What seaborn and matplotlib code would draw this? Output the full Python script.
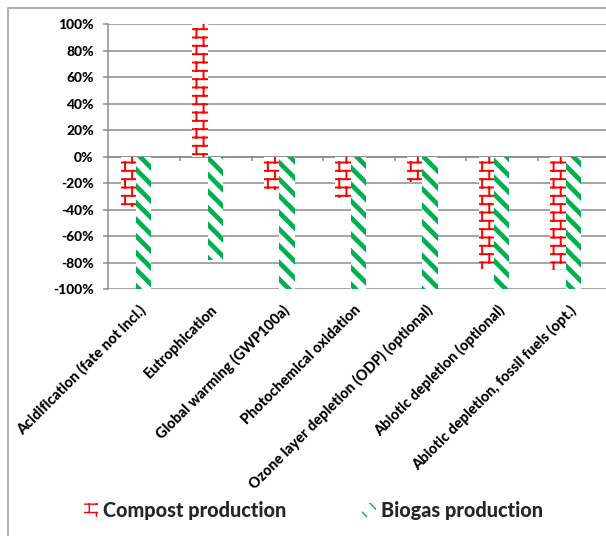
import warnings
import numpy as np
import pandas as pd
import matplotlib
matplotlib.use("Agg")
import matplotlib.pyplot as plt
import matplotlib.hatch as mhatch
from matplotlib.path import Path
from matplotlib.patches import Rectangle
import seaborn as sns

warnings.filterwarnings("ignore")

categories = [
    "Acidification (fate not incl.)",
    "Eutrophication",
    "Global warming (GWP100a)",
    "Photochemical oxidation",
    "Ozone layer depletion (ODP) (optional)",
    "Abiotic depletion (optional)",
    "Abiotic depletion, fossil fuels (opt.)",
]
compost = [-0.38, 1.00, -0.25, -0.31, -0.19, -0.85, -0.86]
biogas = [-1.00, -0.78, -1.00, -1.00, -1.00, -1.00, -1.00]
series_names = ["Compost production", "Biogas production"]
y_ticks = [-1.0, -0.8, -0.6, -0.4, -0.2, 0.0, 0.2, 0.4, 0.6, 0.8, 1.0]
y_labels = ["-100%", "-80%", "-60%", "-40%", "-20%", "0%",
            "20%", "40%", "60%", "80%", "100%"]

RED = "#FF0000"
GREEN = "#00B050"
GRID = "#8C8C8C"


class BrickHatch(mhatch.HatchPatternBase):
    """Horizontal brick pattern, selected with the 'b' hatch character."""

    def __init__(self, hatch, density):
        n = hatch.count("b")
        self.rows = int(n * density * 2)
        self.cols = max(int(round(self.rows * 7 / 12)), 1)
        # one horizontal line per row, one vertical joint per brick,
        # plus the wrapped part of the last row's joints
        nseg = self.rows + self.rows * self.cols + self.cols
        self.num_vertices = 2 * nseg if n else 0

    def set_vertices_and_codes(self, vertices, codes):
        segs = []
        h = 1.0 / self.rows
        for k in range(self.rows):
            y = (k + 0.5) * h
            segs.append(((0.0, y), (1.0, y)))
            for j in range(self.cols):
                x = (j + 0.25 + 0.5 * (k % 2)) / self.cols
                if k < self.rows - 1:
                    segs.append(((x, y), (x, y + h)))
                else:
                    segs.append(((x, y), (x, 1.0)))
                    segs.append(((x, 0.0), (x, 0.5 * h)))
        pts = np.array(segs, dtype=float).reshape(-1, 2)
        vertices[:] = pts
        codes[0::2] = Path.MOVETO
        codes[1::2] = Path.LINETO


mhatch._hatch_types.append(BrickHatch)

sns.set_style("white")
plt.rcParams["font.family"] = ["Lato", "DejaVu Sans"]
plt.rcParams["font.weight"] = "black"

df = pd.DataFrame({
    "category": categories * 2,
    "value": compost + biogas,
    "series": [series_names[0]] * len(categories) + [series_names[1]] * len(categories),
})

fig = plt.figure(figsize=(6.06, 5.36), dpi=100)
fig.patch.set_facecolor("white")
ax = fig.add_axes([0.1789, 0.4608, 0.827, 0.4944])

sns.barplot(data=df, x="category", y="value", hue="series",
            order=categories, hue_order=series_names,
            palette=[RED, GREEN], width=0.43, saturation=1,
            legend=False, errorbar=None, ax=ax)

styles = [(RED, "b", 1.4), (GREEN, "\\\\", 3.4)]
for container, (color, hatch, hlw) in zip(ax.containers, styles):
    for p in container:
        p.set_facecolor("white")
        p.set_edgecolor(color)
        p.set_linewidth(0)
        p.set_hatch(hatch)
        if hasattr(p, "set_hatch_linewidth"):
            p.set_hatch_linewidth(hlw)

ax.set_ylim(-1, 1)
ax.set_xlim(-0.385, 6.615)
ax.set_xlabel("")
ax.set_ylabel("")
ax.set_facecolor("white")

ax.set_yticks(y_ticks, labels=y_labels)
ax.yaxis.grid(True, color=GRID, linewidth=1.1)
ax.xaxis.grid(False)
ax.set_axisbelow(True)
for side in ("top", "right", "bottom"):
    ax.spines[side].set_visible(False)
ax.spines["left"].set_color(GRID)
ax.spines["left"].set_linewidth(1.1)
ax.tick_params(axis="y", left=True, length=3.6, width=1.1, color=GRID,
               pad=7, labelsize=10, labelcolor="black", direction="out")

label_pos = np.arange(len(categories)) + 0.04
ax.set_xticks(label_pos, labels=categories, rotation=45, ha="right",
              rotation_mode="anchor")
ax.tick_params(axis="x", bottom=True, length=0, pad=10, labelsize=10.45,
               labelcolor="black")

# category separators along the 0% line
sec = ax.secondary_xaxis(0.5)
sec.set_xticks(np.arange(len(categories) - 1) + 0.615)
sec.tick_params(axis="x", labeltop=False, labelbottom=False, length=3,
                width=1.1, color=GRID, direction="in")
for sp in sec.spines.values():
    sp.set_color(GRID)
    sp.set_linewidth(1.1)

# chart area border
fig.add_artist(Rectangle((8 / 606, -1.0), 2.0, 2.0 - 8 / 536,
                         transform=fig.transFigure, fill=False,
                         edgecolor="#999999", linewidth=1.1, clip_on=False))

fig.legend(handles=list(ax.containers), labels=series_names, loc="center",
           bbox_to_anchor=(0.517, 0.0485), ncol=2, frameon=False,
           prop={"size": 14.3, "weight": "black"}, handlelength=0.7,
           handleheight=0.7, handletextpad=0.25, columnspacing=3.8)

fig.savefig("out.png", dpi=100, facecolor="white")
